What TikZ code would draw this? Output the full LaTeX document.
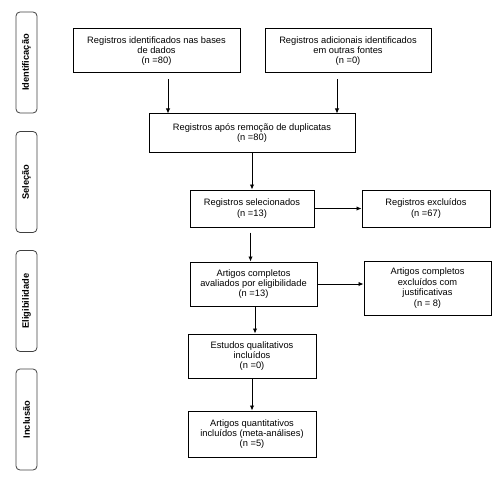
\documentclass[tikz,border=0pt]{standalone}
\usepackage{fontspec}
\setmainfont{Liberation Sans}
\usetikzlibrary{arrows.meta}
\begin{document}
\begin{tikzpicture}[x=1pt,y=-1pt,
  every node/.style={font=\fontsize{9.3}{10.4}\selectfont},
  box/.style={draw=black,line width=1pt,rectangle,inner sep=0pt,align=center},
  phase/.style={draw=black!75,line width=0.8pt,rounded corners=4pt,rotate=90,inner sep=0pt,
    minimum width=101pt,minimum height=21pt,font=\fontsize{9.3}{10.4}\selectfont\bfseries},
  arr/.style={draw=black,line width=0.9pt,-{Latex[length=5pt,width=4.5pt]}}]
\useasboundingbox (0,0) rectangle (500,484);
% phase labels
\node[phase] (p1) at (26.5,62.5) {Identificação};
\node[phase] (p2) at (26.5,182) {Seleção};
\node[phase] (p3) at (26.5,301) {Eligibilidade};
\node[phase] (p4) at (26.5,419.5) {Inclusão};
% boxes
\node[box,minimum width=167pt,minimum height=44pt] (b1) at (156.5,51)
  {Registros identificados nas bases\\de dados\\(n =80)};
\node[box,minimum width=166pt,minimum height=44pt] (b2) at (348,51)
  {Registros adicionais identificados\\em outras fontes\\(n =0)};
\node[box,minimum width=206pt,minimum height=38pt] (b3) at (252,133)
  {Registros após remoção de duplicatas\\(n =80)};
\node[box,minimum width=124pt,minimum height=37pt] (b4) at (252,208.5)
  {Registros selecionados\\(n =13)};
\node[box,minimum width=128pt,minimum height=37pt] (b5) at (426,208.5)
  {Registros excluídos\\(n =67)};
\node[box,minimum width=127pt,minimum height=44pt] (b6) at (253.5,284)
  {Artigos completos\\avaliados por eligibilidade\\(n =13)};
\node[box,minimum width=127pt,minimum height=54pt] (b7) at (427.5,288)
  {Artigos completos\\excluídos com\\justificativas\\(n = 8)};
\node[box,minimum width=128pt,minimum height=44pt] (b8) at (252,356)
  {Estudos qualitativos\\incluídos\\(n =0)};
\node[box,minimum width=128pt,minimum height=46pt] (b9) at (252,434)
  {Artigos quantitativos\\incluídos (meta-análises)\\(n =5)};
% connectors
\draw[arr,shorten <=6pt] ([xshift=11.5pt]b1.south) -- ([xshift=11.5pt]b1.south |- b3.north);
\draw[arr,shorten <=6pt] ([xshift=-11pt]b2.south) -- ([xshift=-11pt]b2.south |- b3.north);
\draw[arr] (b3.south) -- (b4.north);
\draw[arr] (b4.east) -- (b5.west);
\draw[arr,shorten <=5pt] ([xshift=-1.5pt]b4.south) -- ([xshift=-1.5pt]b4.south |- b6.north);
\draw[arr] (b6.east) -- (b6.east -| b7.west);
\draw[arr] ([xshift=1.5pt]b6.south) -- ([xshift=1.5pt]b6.south |- b8.north);
\draw[arr] (b8.south) -- (b9.north);
\end{tikzpicture}
\end{document}
